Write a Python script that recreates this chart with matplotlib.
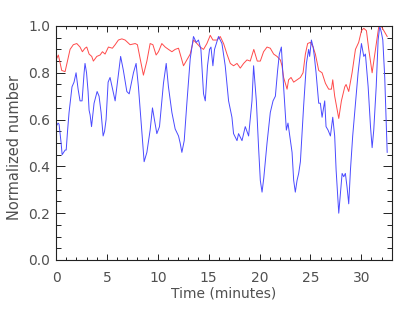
import matplotlib
matplotlib.use("Agg")
import matplotlib.pyplot as plt
from matplotlib.ticker import MultipleLocator

# Blue series (time in minutes, normalized value)
blue_time = [0.0, 0.2, 0.3, 0.5, 0.6, 0.75, 0.9, 1.0, 1.13, 1.28, 1.57, 1.77, 1.97, 2.17,
             2.36, 2.56, 2.76, 2.85, 3.0, 3.15, 3.25, 3.35, 3.49, 3.74, 4.04, 4.23, 4.43,
             4.63, 4.77, 4.92, 5.12, 5.31, 5.61, 5.81, 6.1, 6.35, 6.62, 6.96, 7.19, 7.38,
             7.61, 7.87, 8.1, 8.43, 8.66, 8.93, 9.25, 9.48, 9.67, 9.91, 10.17, 10.56,
             10.83, 11.05, 11.39, 11.71, 12.04, 12.2, 12.37, 12.6, 12.86, 13.19, 13.51,
             13.78, 14.0, 14.24, 14.5, 14.67, 14.89, 15.09, 15.23, 15.42, 15.58, 15.97,
             16.31, 16.63, 16.96, 17.29, 17.45, 17.79, 17.94, 18.28, 18.6, 18.93, 19.26,
             19.42, 19.69, 19.91, 20.08, 20.25, 20.42, 20.74, 21.06, 21.33, 21.56, 21.78,
             21.95, 22.15, 22.37, 22.64, 22.8, 22.96, 23.2, 23.36, 23.52, 23.69, 23.85,
             24.02, 24.34, 24.61, 24.83, 24.93, 25.1, 25.27, 25.39, 25.56, 25.82, 25.98,
             26.15, 26.41, 26.54, 26.74, 26.97, 27.2, 27.39, 27.53, 27.79, 27.95, 28.12,
             28.28, 28.44, 28.61, 28.77, 28.94, 29.16, 29.43, 29.69, 30.02, 30.25, 30.41,
             30.68, 30.91, 31.07, 31.23, 31.47, 31.66, 31.82, 31.99, 32.12, 32.31, 32.45,
             32.55]
blue_value = [0.57, 0.585, 0.58, 0.50, 0.45, 0.46, 0.47, 0.47, 0.55, 0.63, 0.74, 0.76, 0.80,
              0.73, 0.68, 0.68, 0.80, 0.84, 0.80, 0.72, 0.64, 0.62, 0.57, 0.67, 0.72, 0.70,
              0.63, 0.53, 0.55, 0.60, 0.76, 0.78, 0.72, 0.68, 0.78, 0.87, 0.81, 0.72, 0.71,
              0.75, 0.80, 0.84, 0.74, 0.555, 0.42, 0.46, 0.555, 0.65, 0.60, 0.54, 0.57,
              0.755, 0.84, 0.74, 0.63, 0.56, 0.53, 0.50, 0.46, 0.51, 0.67, 0.86, 0.955,
              0.93, 0.94, 0.90, 0.71, 0.68, 0.83, 0.90, 0.91, 0.83, 0.90, 0.955, 0.925,
              0.83, 0.68, 0.61, 0.54, 0.51, 0.54, 0.51, 0.57, 0.53, 0.68, 0.83, 0.68, 0.48,
              0.34, 0.29, 0.35, 0.50, 0.63, 0.68, 0.70, 0.81, 0.88, 0.91, 0.74, 0.555,
              0.585, 0.535, 0.46, 0.34, 0.29, 0.34, 0.37, 0.42, 0.66, 0.84, 0.90, 0.87,
              0.94, 0.91, 0.87, 0.80, 0.67, 0.67, 0.61, 0.68, 0.57, 0.555, 0.53, 0.61, 0.53,
              0.385, 0.20, 0.285, 0.37, 0.356, 0.37, 0.31, 0.24, 0.385, 0.53, 0.67, 0.80,
              0.925, 0.87, 0.88, 0.74, 0.57, 0.48, 0.555, 0.74, 0.94, 1.0, 0.97, 0.94, 0.78,
              0.60, 0.46]

# Red series
red_time = [0.0, 0.23, 0.56, 0.89, 1.15, 1.38, 1.7, 2.04, 2.36, 2.59, 2.85, 3.02, 3.25,
            3.51, 3.67, 4.01, 4.33, 4.56, 4.82, 5.15, 5.54, 5.81, 6.13, 6.47, 6.79, 7.28,
            7.78, 8.0, 8.27, 8.59, 8.93, 9.25, 9.52, 9.84, 10.07, 10.4, 10.73, 11.05,
            11.39, 11.71, 12.04, 12.27, 12.53, 12.86, 13.19, 13.51, 13.85, 14.17, 14.5,
            14.83, 15.16, 15.42, 15.82, 16.14, 16.47, 16.8, 17.13, 17.45, 17.79, 18.11,
            18.44, 18.77, 19.09, 19.44, 19.78, 20.08, 20.4, 20.74, 21.06, 21.39, 21.72,
            22.05, 22.21, 22.37, 22.71, 22.86, 23.1, 23.36, 23.69, 24.02, 24.28, 24.51,
            24.73, 25.0, 25.27, 25.49, 25.82, 26.15, 26.48, 26.8, 27.07, 27.2, 27.39,
            27.79, 28.05, 28.38, 28.51, 28.77, 29.1, 29.43, 29.75, 30.02, 30.25, 30.51,
            30.74, 31.07, 31.4, 31.72, 31.96, 32.22, 32.55]
red_value = [0.855, 0.876, 0.81, 0.805, 0.855, 0.90, 0.92, 0.925, 0.91, 0.89, 0.905, 0.91,
             0.88, 0.87, 0.85, 0.87, 0.876, 0.89, 0.88, 0.91, 0.905, 0.92, 0.94, 0.945,
             0.94, 0.92, 0.925, 0.92, 0.86, 0.79, 0.85, 0.925, 0.92, 0.876, 0.89, 0.925,
             0.91, 0.90, 0.89, 0.90, 0.905, 0.87, 0.83, 0.855, 0.88, 0.94, 0.925, 0.91,
             0.90, 0.925, 0.96, 0.94, 0.94, 0.955, 0.925, 0.88, 0.84, 0.83, 0.84, 0.82,
             0.84, 0.855, 0.85, 0.90, 0.85, 0.85, 0.89, 0.91, 0.905, 0.88, 0.87, 0.855,
             0.83, 0.78, 0.73, 0.77, 0.78, 0.76, 0.77, 0.78, 0.80, 0.88, 0.925, 0.93, 0.91,
             0.88, 0.81, 0.80, 0.755, 0.73, 0.73, 0.77, 0.70, 0.605, 0.68, 0.74, 0.75,
             0.72, 0.80, 0.90, 0.93, 0.98, 0.99, 0.98, 0.90, 0.80, 0.90, 0.997, 1.0, 0.98,
             0.955]

text_color = "#505050"

fig = plt.figure(figsize=(4.15, 3.12), dpi=100)
ax = fig.add_axes([0.135, 0.1667, 0.809, 0.75])

ax.plot(red_time, red_value, color="#ff4a4a", lw=0.7)
ax.plot(blue_time, blue_value, color="#4a4aff", lw=0.7)

ax.set_xlim(0, 33)
ax.set_ylim(0, 1.0)
ax.xaxis.set_major_locator(MultipleLocator(5))
ax.xaxis.set_minor_locator(MultipleLocator(1))
ax.yaxis.set_major_locator(MultipleLocator(0.2))
ax.yaxis.set_minor_locator(MultipleLocator(0.05))
ax.set_yticklabels(["%.1f" % v for v in ax.get_yticks()])

ax.tick_params(axis="both", which="both", direction="in", top=True, right=True,
               colors="#222222", labelcolor=text_color, labelsize=10, width=0.7)
ax.tick_params(axis="x", which="major", length=4.5, pad=8)
ax.tick_params(axis="x", which="minor", length=2.3)
ax.tick_params(axis="y", which="major", length=6.5, pad=4)
ax.tick_params(axis="y", which="minor", length=3.3)
for s in ax.spines.values():
    s.set_linewidth(0.8)
    s.set_color("#222222")

ax.set_xlabel("Time (minutes)", fontsize=10, color=text_color, labelpad=1)
ax.set_ylabel("Normalized number", fontsize=10.5, color=text_color)
ax.yaxis.set_label_coords(-0.1, 0.48)

fig.savefig("out.png", dpi=100)
